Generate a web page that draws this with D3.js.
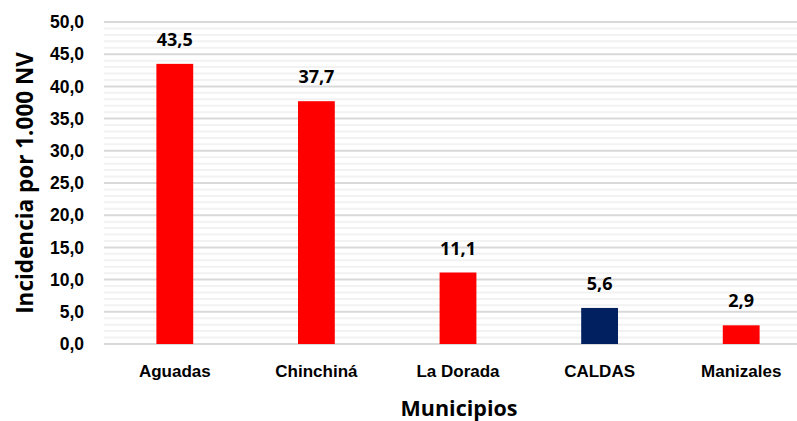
<!DOCTYPE html>
<html>
<head>
<meta charset="utf-8">
<script src="https://cdn.jsdelivr.net/npm/d3@7"></script>
<style>
  body { margin: 0; background: #fff; }
  svg { display: block; font-family: "Open Sans", "Noto Sans", sans-serif; font-weight: bold; }
</style>
</head>
<body>
<svg class="chart" width="797" height="421"></svg>
<script>
const municipios = ["Aguadas", "Chinchiná", "La Dorada", "CALDAS", "Manizales"]
const incidencia = [43.5, 37.7, 11.1, 5.6, 2.9]
const barColors = ["#ff0000", "#ff0000", "#ff0000", "#002060", "#ff0000"]
const yTicks = [0, 5, 10, 15, 20, 25, 30, 35, 40, 45, 50]

const margin = { top: 22, left: 104, bottom: 77 }
const width = 812 - margin.left
const height = 421 - margin.top - margin.bottom

const svg = d3.select("svg.chart")
const fmt = (v) => d3.format(".1f")(v).replace(".", ",")

const x = d3.scaleBand().domain(municipios).range([0, width]).paddingInner(0.74).paddingOuter(0.37)
const y = d3.scaleLinear().domain([0, 50]).range([height, 0])

const g = svg.append("g")
  .attr("transform", `translate(${margin.left},${margin.top})`)

// minor grid every 1, major every 5
g.append("g")
  .selectAll("line")
  .data(d3.range(1, 50).filter((v) => v % 5 !== 0))
  .join("line")
  .attr("x1", 0).attr("x2", width)
  .attr("y1", (d) => y(d)).attr("y2", (d) => y(d))
  .attr("stroke", "#f2f2f2")
  .attr("stroke-width", 2)

g.append("g")
  .selectAll("line")
  .data(yTicks)
  .join("line")
  .attr("x1", 0).attr("x2", width)
  .attr("y1", (d) => y(d)).attr("y2", (d) => y(d))
  .attr("stroke", "#d9d9d9")
  .attr("stroke-width", 2)

// y axis labels
const yAxis = g.append("g")
  .call(d3.axisLeft(y).tickValues(yTicks).tickFormat(fmt).tickSize(0).tickPadding(20))
yAxis.select(".domain").remove()
yAxis.selectAll("text")
  .attr("font-size", 17.5)
  .attr("font-family", null)
  .attr("fill", "#000")

// bars
g.selectAll("rect.bar")
  .data(incidencia)
  .join("rect")
  .attr("class", "bar")
  .attr("x", (d, i) => x(municipios[i]))
  .attr("y", (d) => y(d))
  .attr("width", x.bandwidth())
  .attr("height", (d) => height - y(d))
  .attr("fill", (d, i) => barColors[i])

// value labels
g.selectAll("text.value")
  .data(incidencia)
  .join("text")
  .attr("class", "value")
  .attr("x", (d, i) => x(municipios[i]) + x.bandwidth() / 2)
  .attr("y", (d) => y(d) - 18)
  .attr("text-anchor", "middle")
  .attr("font-size", 18)
  .text(fmt)

// x axis labels
const xAxis = g.append("g")
  .attr("transform", `translate(0,${height})`)
  .call(d3.axisBottom(x).tickSize(0).tickPadding(21))
xAxis.select(".domain").remove()
xAxis.selectAll("text")
  .attr("font-size", 17)
  .attr("font-family", null)
  .attr("fill", "#000")

// axis titles
svg.append("text")
  .attr("x", 459)
  .attr("y", 416)
  .attr("text-anchor", "middle")
  .attr("font-size", 21.5)
  .text("Municipios")

svg.append("text")
  .attr("transform", "translate(33,183) rotate(-90)")
  .attr("text-anchor", "middle")
  .attr("font-size", 22.5)
  .text("Incidencia por 1.000 NV")
</script>
</body>
</html>
